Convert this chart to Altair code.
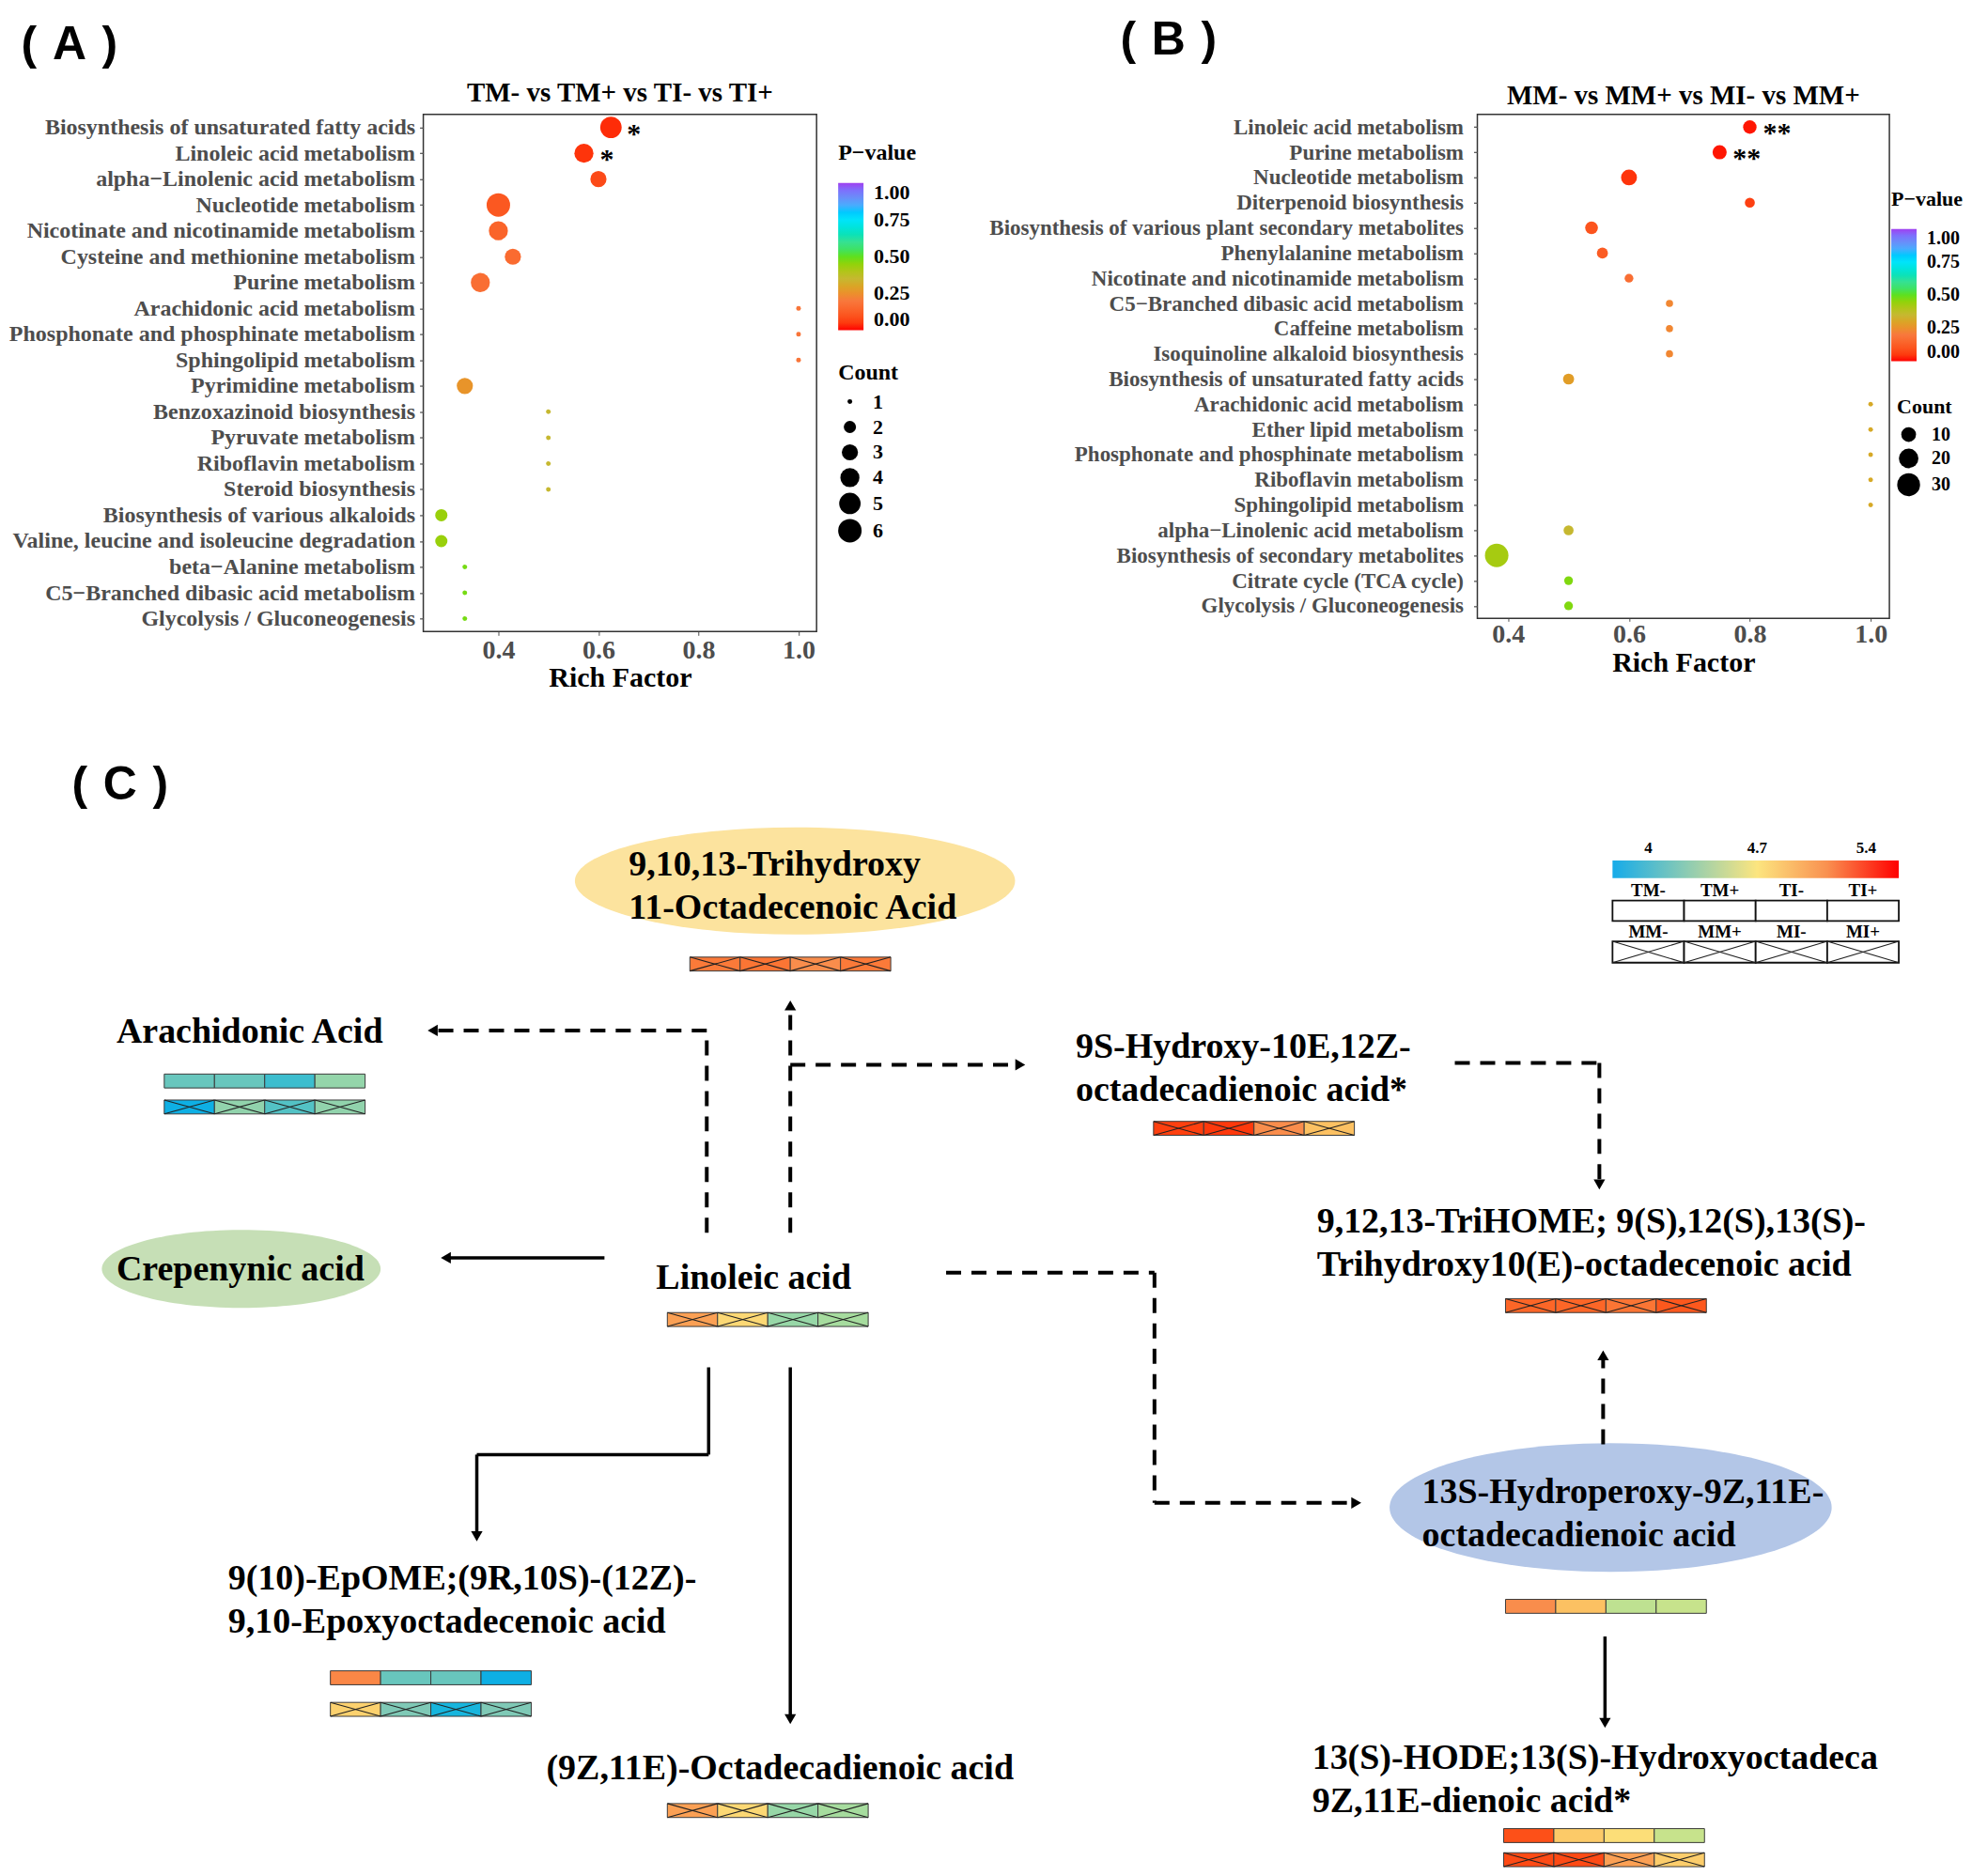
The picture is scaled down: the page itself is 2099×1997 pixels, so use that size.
import altair as alt
import pandas as pd

SERIF = "Liberation Serif"
SANS = "Liberation Sans"
GRAY = "#4D4D4D"

# ---------------- data: panel (A) ----------------
A_title = "TM- vs TM+ vs TI- vs TI+"
A_pathways = [
    "Biosynthesis of unsaturated fatty acids",
    "Linoleic acid metabolism",
    "alpha\u2212Linolenic acid metabolism",
    "Nucleotide metabolism",
    "Nicotinate and nicotinamide metabolism",
    "Cysteine and methionine metabolism",
    "Purine metabolism",
    "Arachidonic acid metabolism",
    "Phosphonate and phosphinate metabolism",
    "Sphingolipid metabolism",
    "Pyrimidine metabolism",
    "Benzoxazinoid biosynthesis",
    "Pyruvate metabolism",
    "Riboflavin metabolism",
    "Steroid biosynthesis",
    "Biosynthesis of various alkaloids",
    "Valine, leucine and isoleucine degradation",
    "beta\u2212Alanine metabolism",
    "C5\u2212Branched dibasic acid metabolism",
    "Glycolysis / Gluconeogenesis",
]
A_rich = [0.625, 0.571, 0.6, 0.4, 0.4, 0.429, 0.364, 1.0, 1.0, 1.0,
          0.333, 0.5, 0.5, 0.5, 0.5, 0.286, 0.286, 0.333, 0.333, 0.333]
A_count = [5, 4, 3, 6, 4, 3, 4, 1, 1, 1, 3, 1, 1, 1, 1, 2, 2, 1, 1, 1]
A_pvalue = [0.03, 0.04, 0.08, 0.11, 0.14, 0.16, 0.17, 0.19, 0.19, 0.19,
            0.26, 0.35, 0.35, 0.35, 0.35, 0.44, 0.44, 0.48, 0.48, 0.48]
A_sig = ["*", "*"] + [""] * 18

# ---------------- data: panel (B) ----------------
B_title = "MM- vs MM+ vs MI- vs MM+"
B_pathways = [
    "Linoleic acid metabolism",
    "Purine metabolism",
    "Nucleotide metabolism",
    "Diterpenoid biosynthesis",
    "Biosynthesis of various plant secondary metabolites",
    "Phenylalanine metabolism",
    "Nicotinate and nicotinamide metabolism",
    "C5\u2212Branched dibasic acid metabolism",
    "Caffeine metabolism",
    "Isoquinoline alkaloid biosynthesis",
    "Biosynthesis of unsaturated fatty acids",
    "Arachidonic acid metabolism",
    "Ether lipid metabolism",
    "Phosphonate and phosphinate metabolism",
    "Riboflavin metabolism",
    "Sphingolipid metabolism",
    "alpha\u2212Linolenic acid metabolism",
    "Biosynthesis of secondary metabolites",
    "Citrate cycle (TCA cycle)",
    "Glycolysis / Gluconeogenesis",
]
B_rich = [0.8, 0.75, 0.6, 0.8, 0.538, 0.556, 0.6, 0.667, 0.667, 0.667,
          0.5, 1.0, 1.0, 1.0, 1.0, 1.0, 0.5, 0.381, 0.5, 0.5]
B_count = [8, 9, 12, 4, 7, 5, 3, 2, 2, 2, 5, 1, 1, 1, 1, 1, 4, 32, 3, 3]
B_pvalue = [0.01, 0.01, 0.04, 0.06, 0.10, 0.12, 0.17, 0.23, 0.23, 0.23,
            0.28, 0.31, 0.31, 0.31, 0.31, 0.31, 0.35, 0.42, 0.47, 0.47]
B_sig = ["**", "**"] + [""] * 18

# P-value colour ramp
P_STOPS = [0, 0.2, 0.35, 0.5, 0.62, 0.75, 0.88, 1.0]
P_COLORS = ["#FF0000", "#F8783C", "#C6B830", "#5EE01E", "#3CE0A0", "#00E4FA", "#6898F4", "#A040F0"]

# ---------------- data: panel (C) heat strips ----------------
GROUPS_TM = ["TM-", "TM+", "TI-", "TI+"]
GROUPS_MM = ["MM-", "MM+", "MI-", "MI+"]
HEAT_DOMAIN = [3.77, 4.24, 4.7, 5.15, 5.61]
HEAT_RANGE = ["#16ABE9", "#8ACBB4", "#FCE57F", "#F99050", "#FF0000"]
HEAT_TICKS = [4, 4.7, 5.4]

strip_ids = ["trihydroxy_MM", "arachidonic_TM", "arachidonic_MM", "hydroxy9S_MM",
             "trihome_MM", "linoleic_MM", "epome_TM", "epome_MM", "octadeca_MM",
             "hydroperoxy_TM", "hode_TM", "hode_MM"]
strip_values = [
    [5.27, 5.30, 5.17, 5.27],
    [4.12, 4.12, 3.98, 4.34],
    [3.81, 4.32, 4.05, 4.32],
    [5.51, 5.53, 5.17, 4.90],
    [5.37, 5.37, 5.30, 5.43],
    [5.07, 4.77, 4.36, 4.43],
    [5.20, 4.12, 4.12, 3.81],
    [4.81, 4.20, 3.87, 4.20],
    [5.07, 4.77, 4.36, 4.43],
    [5.17, 4.90, 4.52, 4.55],
    [5.46, 4.85, 4.74, 4.55],
    [5.48, 5.48, 5.07, 4.83],
]

compound_labels = [
    "9,10,13-Trihydroxy\n11-Octadecenoic Acid",
    "Arachidonic Acid",
    "9S-Hydroxy-10E,12Z-\noctadecadienoic acid*",
    "9,12,13-TriHOME; 9(S),12(S),13(S)-\nTrihydroxy10(E)-octadecenoic acid",
    "Crepenynic acid",
    "Linoleic acid",
    "9(10)-EpOME;(9R,10S)-(12Z)-\n9,10-Epoxyoctadecenoic acid",
    "(9Z,11E)-Octadecadienoic acid",
    "13S-Hydroperoxy-9Z,11E-\noctadecadienoic acid",
    "13(S)-HODE;13(S)-Hydroxyoctadeca\n9Z,11E-dienoic acid*",
]

PANEL_TAGS = ["(\u2004A\u2004)", "(\u2004B\u2004)", "(\u2004C\u2004)"]

# ---------------- layout (figure pixel coordinates) ----------------
TOP_PAD = 8
C_X0 = 450            # page x where panel C's origin lands (aligned with panel A's plot)
C_X1 = 2091
C_WIDTH = C_X1 - C_X0
C_TOP = 730
C_BOT = 1997
C_HEIGHT = 1983 - C_TOP

strip_pos = [(734, 1015), (174, 1141), (174, 1169), (1228, 1192), (1603, 1383), (710, 1398),
             (351, 1784), (351, 1818), (710, 1927), (1603, 1707), (1601, 1954), (1601, 1980)]
CELL_W, CELL_H = 53.5, 15

label_pos = [(669, 897), (123, 1077), (1145, 1093), (1402, 1281), (123, 1333), (698, 1342),
             (242, 1666), (581, 1870), (1514, 1573), (1397, 1859)]

ellipses = [  # cx, cy, w, h, colour
    (846, 933, 469, 114, "#FCE39E"),
    (256, 1351, 297, 83, "#C6DFB6"),
    (1715, 1608, 471, 137, "#B3C6E7"),
]

arrows = [  # polyline points, dashed?
    ([(752, 1312), (752, 1094), (455, 1094)], True),
    ([(841, 1312), (841, 1062)], True),
    ([(841, 1131), (1091, 1131)], True),
    ([(1549, 1129), (1703, 1129), (1703, 1265)], True),
    ([(1007, 1355), (1229, 1355), (1229, 1603), (1449, 1603)], True),
    ([(1707, 1540), (1707, 1439)], True),
    ([(643, 1339), (469, 1339)], False),
    ([(754, 1457), (754, 1551), (507, 1551), (507, 1644)], False),
    ([(841, 1457), (841, 1841)], False),
    ([(1709, 1747), (1709, 1845)], False),
]

LEG_X0, LEG_X1 = 1717, 2022
LEG_GRAD_Y = (911, 930)
LEG_BOX_TM = (954, 976)
LEG_BOX_MM = (998, 1021)
LEG_TM_LABEL_Y = 943
LEG_MM_LABEL_Y = 988
LEG_TICK_Y = 907


# ---------------- panels (A) and (B) ----------------
def dot_panel(tag, title, pathways, rich, count, pvalue, sig, *, width, height, xdomain,
              size_domain, size_values, label_size, label_pad, x_label_pad, x_tick, title_pad,
              star_dx, tag_xy, title_y, pleg, cleg, leg_label_size, leg_title_size, grad_len):
    df = pd.DataFrame({"pathway": pathways, "rich": rich, "count": count,
                       "pvalue": pvalue, "sig": sig})
    yscale = alt.Scale(padding=0.5)
    xscale = alt.Scale(domain=xdomain, nice=False, zero=False)
    yenc = alt.Y("pathway:N", sort=pathways, scale=yscale,
                 axis=alt.Axis(title=None, labelFont=SERIF, labelFontSize=label_size,
                               labelFontWeight="bold", labelColor=GRAY, labelLimit=1200,
                               tickColor=GRAY, tickSize=4, tickWidth=1.2, labelPadding=label_pad,
                               domain=False, grid=False))
    xenc = alt.X("rich:Q", scale=xscale,
                 axis=alt.Axis(values=[0.4, 0.6, 0.8, 1.0], format=".1f", title="Rich Factor",
                               labelFont=SERIF, labelFontSize=28, labelFontWeight="bold",
                               labelColor=GRAY, tickColor=GRAY, tickSize=x_tick,
                               labelPadding=x_label_pad, domain=False, grid=False,
                               titleFont=SERIF, titleFontSize=30, titleFontWeight="bold",
                               titleColor="black", titlePadding=title_pad))
    pts = alt.Chart(df).mark_circle(opacity=1).encode(
        x=xenc, y=yenc,
        color=alt.Color("pvalue:Q", scale=alt.Scale(domain=P_STOPS, range=P_COLORS),
                        legend=alt.Legend(title="P\u2212value", orient="none",
                                          legendX=pleg[0], legendY=pleg[1],
                                          direction="vertical", gradientLength=grad_len,
                                          gradientThickness=27,
                                          values=[0, 0.25, 0.5, 0.75, 1.0], format=".2f",
                                          labelFont=SERIF, labelFontSize=leg_label_size,
                                          labelFontWeight="bold", labelColor="black",
                                          titleFont=SERIF, titleFontSize=leg_title_size,
                                          titleFontWeight="bold", titleColor="black",
                                          titlePadding=20, labelOffset=11, labelOverlap=False,
                                          gradientStrokeWidth=0)),
        size=alt.Size("count:Q",
                      scale=alt.Scale(type="pow", exponent=0.75, domain=size_domain,
                                      range=[25, 625], zero=False),
                      legend=alt.Legend(title="Count", orient="none",
                                        legendX=cleg[0], legendY=cleg[1], values=size_values,
                                        symbolFillColor="black", symbolStrokeColor="black",
                                        symbolStrokeWidth=0, symbolType="circle",
                                        symbolOpacity=1, labelFont=SERIF,
                                        labelFontSize=leg_label_size, labelFontWeight="bold",
                                        labelColor="black", titleFont=SERIF,
                                        titleFontSize=leg_title_size, titleFontWeight="bold",
                                        titleColor="black", rowPadding=5, labelOffset=12,
                                        titlePadding=8)),
    )
    stars = alt.Chart(df).mark_text(align="left", baseline="middle", dx=star_dx, dy=7,
                                    font=SERIF, fontSize=30, fontWeight="bold",
                                    color="black").encode(
        x=alt.X("rich:Q", scale=xscale),
        y=alt.Y("pathway:N", sort=pathways, scale=yscale),
        text="sig:N",
    )
    tag_layer = alt.Chart(pd.DataFrame({"t": [tag]})).mark_text(
        font=SANS, fontSize=50, fontWeight="bold", align="center", baseline="middle",
        color="black").encode(text="t:N", x=alt.value(tag_xy[0]), y=alt.value(tag_xy[1]))
    title_layer = alt.Chart(pd.DataFrame({"t": [title]})).mark_text(
        font=SERIF, fontSize=29, fontWeight="bold", align="center", baseline="middle",
        color="black").encode(text="t:N", x=alt.value(width / 2), y=alt.value(title_y))
    return alt.layer(pts, stars, tag_layer, title_layer).properties(width=width, height=height)


chart_a = dot_panel(PANEL_TAGS[0], A_title, A_pathways, A_rich, A_count, A_pvalue, A_sig,
                    width=419, height=551, xdomain=[0.25, 1.036], size_domain=[1, 6],
                    size_values=[1, 2, 3, 4, 5, 6], label_size=24, label_pad=5,
                    x_label_pad=2, x_tick=4, title_pad=0, star_dx=17,
                    tag_xy=(-377, -74), title_y=-23, pleg=(442, 29), cleg=(442, 263),
                    leg_label_size=22, leg_title_size=24, grad_len=157)

chart_b = dot_panel(PANEL_TAGS[1], B_title, B_pathways, B_rich, B_count, B_pvalue, B_sig,
                    width=439, height=537, xdomain=[0.349, 1.031], size_domain=[1, 32],
                    size_values=[10, 20, 30], label_size=23, label_pad=11,
                    x_label_pad=0, x_tick=3, title_pad=1, star_dx=14,
                    tag_xy=(-329, -79), title_y=-20, pleg=(441, 80), cleg=(447, 301),
                    leg_label_size=20, leg_title_size=22, grad_len=141)

# ---------------- panel (C) ----------------
cells, crosses = [], []
for sid, vals, (x0, y0) in zip(strip_ids, strip_values, strip_pos):
    crossed = sid.endswith("_MM")
    for i, v in enumerate(vals):
        xa, xb = x0 + i * CELL_W, x0 + (i + 1) * CELL_W
        ya, yb = y0, y0 + CELL_H
        cells.append({"x": xa, "x2": xb, "y": ya, "y2": yb, "value": v})
        if crossed:
            crosses.append({"x": xa, "y": ya, "x2": xb, "y2": yb})
            crosses.append({"x": xa, "y": yb, "x2": xb, "y2": ya})

leg_cells = []
leg_w = (LEG_X1 - LEG_X0) / 4
for row, (ya, yb) in enumerate([LEG_BOX_TM, LEG_BOX_MM]):
    for i in range(4):
        xa, xb = LEG_X0 + i * leg_w, LEG_X0 + (i + 1) * leg_w
        leg_cells.append({"x": xa, "x2": xb, "y": ya, "y2": yb})
        if row == 1:
            crosses.append({"x": xa, "y": ya, "x2": xb, "y2": yb})
            crosses.append({"x": xa, "y": yb, "x2": xb, "y2": ya})

leg_text = []
for i, g in enumerate(GROUPS_TM):
    leg_text.append({"x": LEG_X0 + (i + 0.5) * leg_w, "y": LEG_TM_LABEL_Y, "t": g})
for i, g in enumerate(GROUPS_MM):
    leg_text.append({"x": LEG_X0 + (i + 0.5) * leg_w, "y": LEG_MM_LABEL_Y, "t": g})
d0, d1 = HEAT_DOMAIN[0], HEAT_DOMAIN[-1]
tick_text = [{"x": LEG_X0 + (v - d0) / (d1 - d0) * (LEG_X1 - LEG_X0), "y": LEG_TICK_Y,
              "t": str(v)} for v in HEAT_TICKS]

segs, heads = [], []
HEAD_BACK = 5
for pts_, dashed in arrows:
    n = len(pts_)
    for k in range(n - 1):
        (xa, ya), (xb, yb) = pts_[k], pts_[k + 1]
        if k == n - 2:
            dx, dy = (xb - xa), (yb - ya)
            L = (dx * dx + dy * dy) ** 0.5
            ux, uy = dx / L, dy / L
            tip = (xb, yb)
            xb, yb = xb - ux * 8, yb - uy * 8
            if abs(ux) > abs(uy):
                shape = "triangle-right" if ux > 0 else "triangle-left"
            else:
                shape = "triangle-down" if uy > 0 else "triangle-up"
            heads.append({"x": tip[0] - ux * HEAD_BACK, "y": tip[1] - uy * HEAD_BACK,
                          "shape": shape})
        segs.append({"x": xa, "y": ya, "x2": xb, "y2": yb,
                     "style": "dashed" if dashed else "solid"})


def ellipse_path(r):
    k = 0.5523
    return (f"M -1 0 C -1 {-k*r:.4f} {-k:.4f} {-r:.4f} 0 {-r:.4f} "
            f"C {k:.4f} {-r:.4f} 1 {-k*r:.4f} 1 0 "
            f"C 1 {k*r:.4f} {k:.4f} {r:.4f} 0 {r:.4f} "
            f"C {-k:.4f} {r:.4f} -1 {k*r:.4f} -1 0 Z")


ell_rows = [{"x": cx, "y": cy, "sz": w * w, "shape": ellipse_path(h / w), "col": c}
            for cx, cy, w, h, c in ellipses]
lab_rows = [{"x": x, "y": y, "t": t} for t, (x, y) in zip(compound_labels, label_pos)]

XS = alt.Scale(domain=[C_X0, C_X1], range=[0, C_WIDTH], nice=False, zero=False)
YS = alt.Scale(domain=[C_TOP, C_BOT], range=[0, C_HEIGHT], nice=False, zero=False)


def X(f="x"):
    return alt.X(f + ":Q", scale=XS, axis=None)


def Y(f="y"):
    return alt.Y(f + ":Q", scale=YS, axis=None)


ell_layer = alt.Chart(pd.DataFrame(ell_rows)).mark_point(filled=True, opacity=1, strokeWidth=0).encode(
    x=X(), y=Y(), size=alt.Size("sz:Q", scale=None, legend=None),
    shape=alt.Shape("shape:N", scale=None, legend=None),
    fill=alt.Fill("col:N", scale=None, legend=None))

lab_layer = alt.Chart(pd.DataFrame(lab_rows)).mark_text(
    align="left", baseline="top", font=SERIF, fontSize=38, fontWeight="bold",
    color="black", lineBreak="\n", lineHeight=46).encode(x=X(), y=Y(), text="t:N")

cell_layer = alt.Chart(pd.DataFrame(cells)).mark_rect(stroke="#3A3A3A", strokeWidth=1).encode(
    x=X(), x2=alt.X2("x2:Q"), y=Y(), y2=alt.Y2("y2:Q"),
    fill=alt.Fill("value:Q", scale=alt.Scale(domain=HEAT_DOMAIN, range=HEAT_RANGE), legend=None))

leg_cell_layer = alt.Chart(pd.DataFrame(leg_cells)).mark_rect(
    fill="white", stroke="#111111", strokeWidth=1.8).encode(
    x=X(), x2=alt.X2("x2:Q"), y=Y(), y2=alt.Y2("y2:Q"))

cross_layer = alt.Chart(pd.DataFrame(crosses)).mark_rule(color="#222222", strokeWidth=1.1).encode(
    x=X(), x2=alt.X2("x2:Q"), y=Y(), y2=alt.Y2("y2:Q"))

grad = alt.Gradient(gradient="linear", x1=0, x2=1, y1=0, y2=0,
                    stops=[alt.GradientStop(offset=(d - d0) / (d1 - d0), color=c)
                           for d, c in zip(HEAT_DOMAIN, HEAT_RANGE)])
grad_layer = alt.Chart(pd.DataFrame([{"x": LEG_X0, "x2": LEG_X1, "y": LEG_GRAD_Y[0],
                                      "y2": LEG_GRAD_Y[1]}])).mark_rect(fill=grad).encode(
    x=X(), x2=alt.X2("x2:Q"), y=Y(), y2=alt.Y2("y2:Q"))

tick_layer = alt.Chart(pd.DataFrame(tick_text)).mark_text(
    align="center", baseline="bottom", font=SERIF, fontSize=17, fontWeight="bold",
    color="black").encode(x=X(), y=Y(), text="t:N")

grp_layer = alt.Chart(pd.DataFrame(leg_text)).mark_text(
    align="center", baseline="middle", font=SERIF, fontSize=19, fontWeight="bold",
    color="black").encode(x=X(), y=Y(), text="t:N")

seg_df = pd.DataFrame(segs)
dash_layer = alt.Chart(seg_df[seg_df["style"] == "dashed"]).mark_rule(
    color="black", strokeWidth=4, strokeDash=[16, 11]).encode(
    x=X(), x2=alt.X2("x2:Q"), y=Y(), y2=alt.Y2("y2:Q"))
solid_layer = alt.Chart(seg_df[seg_df["style"] == "solid"]).mark_rule(
    color="black", strokeWidth=3.5).encode(
    x=X(), x2=alt.X2("x2:Q"), y=Y(), y2=alt.Y2("y2:Q"))
head_layer = alt.Chart(pd.DataFrame(heads)).mark_point(
    filled=True, opacity=1, color="black", size=150, strokeWidth=0).encode(
    x=X(), y=Y(), shape=alt.Shape("shape:N", scale=None, legend=None))

ctag_layer = alt.Chart(pd.DataFrame([{"x": 127, "y": 830, "t": PANEL_TAGS[2]}])).mark_text(
    font=SANS, fontSize=50, fontWeight="bold", align="center", baseline="middle",
    color="black").encode(x=X(), y=Y(), text="t:N")

chart_c = alt.layer(ell_layer, lab_layer, cell_layer, leg_cell_layer, grad_layer,
                    cross_layer, tick_layer, grp_layer, dash_layer, solid_layer,
                    head_layer, ctag_layer).properties(
    width=C_WIDTH, height=C_HEIGHT, view=alt.ViewBackground(strokeOpacity=0))

top = alt.hconcat(chart_a, chart_b, spacing=74).resolve_scale(
    color="independent", size="independent")

chart = alt.vconcat(top, chart_c, spacing=0).resolve_scale(
    color="independent", size="independent", fill="independent", shape="independent"
).properties(
    padding={"top": TOP_PAD, "left": 0, "right": 0, "bottom": 0}, background="white"
).configure_view(stroke="#333333", strokeWidth=1.5).configure_axis(grid=False)

chart.save("out.html", embed_options={"renderer": "svg", "actions": False})
